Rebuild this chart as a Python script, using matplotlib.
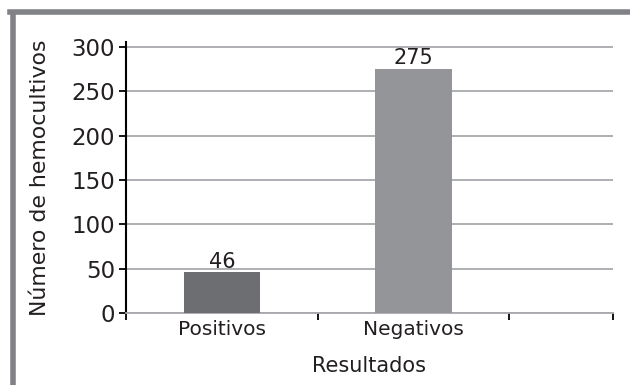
import matplotlib
matplotlib.use("Agg")
import matplotlib.pyplot as plt
from matplotlib.lines import Line2D

categories = ["Positivos", "Negativos"]
values = [46, 275]
bar_colors = ["#6d6e71", "#939598"]
y_ticks = [0, 50, 100, 150, 200, 250, 300]

plt.rcParams['font.family'] = ['DejaVu Sans']

fig = plt.figure(figsize=(6.3, 3.85), dpi=100)
ax = fig.add_axes([0.2, 0.187, 0.773, 0.704])

x = list(range(len(categories)))
ax.bar(x, values, width=0.4, color=bar_colors, zorder=3)
for xi, v in zip(x, values):
    ax.annotate(str(v), (xi, v), xytext=(0, 0.5), textcoords='offset points',
                ha='center', va='bottom', fontsize=15, color='#231f20')

ax.set_xlim(-0.5, 2.04)
ax.set_ylim(0, 305.6)
ax.set_yticks(y_ticks)
ax.set_yticklabels([str(t) for t in y_ticks], fontsize=16.5, color='#231f20')
ax.yaxis.grid(True, color='#a7a9ac', linewidth=1.3, zorder=0)
ax.set_axisbelow(True)

ax.set_xticks([-0.5, 0.5, 1.5, 2.04])
ax.set_xticklabels([])
ax.set_xticks(x, minor=True)
ax.set_xticklabels(categories, minor=True, fontsize=14.5, color='#231f20')
ax.tick_params(axis='x', which='minor', length=0, pad=5)
ax.tick_params(axis='x', which='major', length=5, width=1.3, color='black')
ax.tick_params(axis='y', length=5, width=1.3, color='black', pad=3)

for s in ['top', 'right']:
    ax.spines[s].set_visible(False)
ax.spines['left'].set_color('black')
ax.spines['left'].set_linewidth(1.5)
ax.spines['bottom'].set_color('#a7a9ac')
ax.spines['bottom'].set_linewidth(1.3)

ax.set_xlabel("Resultados", fontsize=15, color='#231f20')
ax.xaxis.label.set_va('center')
ax.xaxis.set_label_coords(0.5, -0.196)
ax.set_ylabel("Número de hemocultivos", fontsize=15.8, color='#231f20')
ax.yaxis.label.set_va('center')
ax.yaxis.set_label_coords(-0.177, 0.5)

# frame lines
fig.add_artist(Line2D([10/630, 1], [1-12/385, 1-12/385], transform=fig.transFigure,
                      color='#808285', linewidth=4))
fig.add_artist(Line2D([12.5/630, 12.5/630], [0, 1-14/385], transform=fig.transFigure,
                      color='#808285', linewidth=4))

fig.savefig("out.png", dpi=100)
